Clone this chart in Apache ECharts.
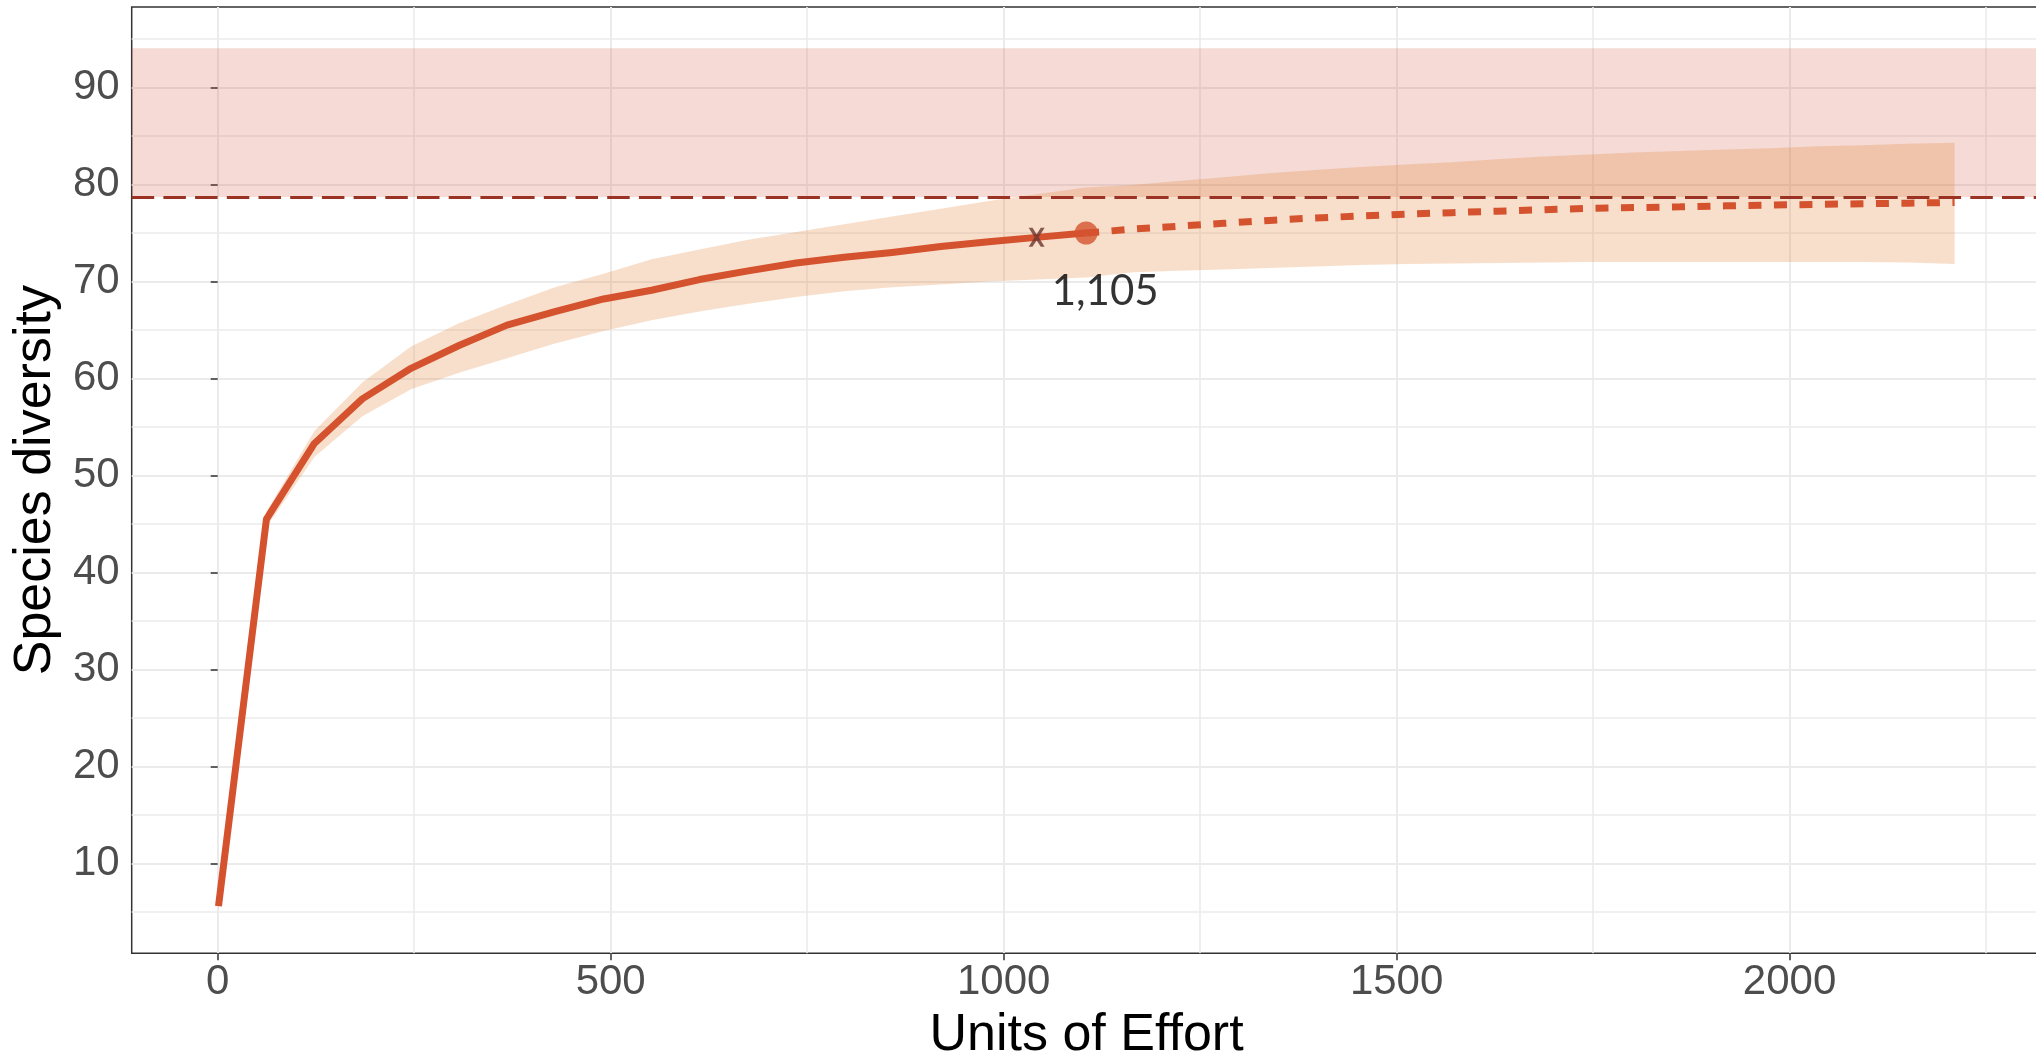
<!DOCTYPE html>
<html><head><meta charset="utf-8">
<script src="https://cdn.jsdelivr.net/npm/echarts@6/dist/echarts.min.js"></script>
<style>html,body{margin:0;padding:0;background:#fff}#c{width:2036px;height:1058px}</style>
</head><body><div id="c"></div>
<script>
// ---- data ----
const rareX  = [1, 62, 123, 184, 246, 307, 368, 429, 491, 552, 613, 675, 736, 797, 858, 920, 981, 1042, 1104, 1105];
const rareY  = [5.6, 45.5, 53.3, 57.9, 61.05, 63.4, 65.5, 66.9, 68.2, 69.1, 70.2, 71.1, 71.9, 72.5, 73.0, 73.6, 74.1, 74.55, 75.0, 75.0];
const rareLo = [5.2, 44.7, 51.9, 56.1, 58.9, 60.6, 62.1, 63.6, 64.9, 66.0, 66.9, 67.7, 68.4, 69.0, 69.4, 69.7, 70.0, 70.2, 70.4, 70.4];
const rareHi = [6.0, 46.3, 54.6, 59.6, 63.3, 65.7, 67.6, 69.4, 70.8, 72.3, 73.3, 74.3, 75.1, 75.9, 76.7, 77.5, 78.3, 79.0, 79.7, 79.7];

const extX  = [1105, 1106, 1164, 1222, 1280, 1338, 1396, 1454, 1512, 1570, 1628, 1687, 1745, 1803, 1861, 1919, 1977, 2035, 2093, 2151, 2210];
const extY  = [75.0, 75.0, 75.4, 75.7, 76.0, 76.3, 76.55, 76.75, 76.95, 77.1, 77.25, 77.4, 77.55, 77.62, 77.7, 77.8, 77.88, 77.95, 78.02, 78.08, 78.15];
const extLo = [70.4, 70.4, 70.95, 71.1, 71.25, 71.4, 71.55, 71.7, 71.8, 71.85, 71.9, 71.95, 72.0, 72.0, 72.0, 72.0, 72.0, 72.0, 72.0, 71.95, 71.8];
const extHi = [79.7, 79.7, 79.95, 80.35, 80.75, 81.15, 81.5, 81.8, 82.05, 82.3, 82.6, 82.9, 83.1, 83.3, 83.45, 83.6, 83.75, 83.95, 84.05, 84.2, 84.3];

const observed = [1105, 75.0];
const crossPoint = [1042, 74.55];
const asymptote = 78.7;
const asymptoteUpper = 94.05;

const xTicks = [0, 500, 1000, 1500, 2000];
const xMinor = [250, 750, 1250, 1750, 2250];
const yTicks = [10, 20, 30, 40, 50, 60, 70, 80, 90];
const yMinor = [5, 15, 25, 35, 45, 55, 65, 75, 85, 95];
const xRange = [-109.45, 2320.45];
const yRange = [0.74, 98.29];

// ---- build ----
const bandX  = rareX.concat(extX.slice(1));
const bandLo = rareLo.concat(extLo.slice(1));
const bandHi = rareHi.concat(extHi.slice(1));
const bandData = bandX.map((x, i) => [x, bandLo[i], bandHi[i]]);

const LINE = '#D4522E';
const FONT = '"Liberation Sans", Arial, sans-serif';
const GRID = '#EBEBEB';
const plainNum = v => String(v);

const chart = echarts.init(document.getElementById('c'), null, {renderer: 'canvas'});

const majorAxisX = {
  type: 'value', gridIndex: 0, min: xRange[0], max: xRange[1], position: 'bottom',
  axisLine: {show: false},
  axisTick: {show: true, customValues: xTicks, length: 7, lineStyle: {color: '#333333', width: 1.5}},
  axisLabel: {show: true, customValues: xTicks, formatter: plainNum, margin: 8, fontSize: 42, color: '#4D4D4D', fontFamily: FONT},
  splitLine: {show: true, lineStyle: {color: GRID, width: 2}},
  name: 'Units of Effort', nameLocation: 'middle', nameGap: 56,
  nameTextStyle: {fontSize: 52, color: '#000', fontFamily: FONT}
};
const minorAxisX = {
  type: 'value', gridIndex: 0, min: xRange[0], max: xRange[1], position: 'bottom',
  axisLine: {show: false}, axisLabel: {show: false},
  axisTick: {show: false, customValues: xMinor},
  splitLine: {show: true, lineStyle: {color: GRID, width: 1.6}}
};
const majorAxisY = {
  type: 'value', gridIndex: 0, min: yRange[0], max: yRange[1], position: 'left',
  axisLine: {show: false},
  axisTick: {show: true, customValues: yTicks, length: 7, lineStyle: {color: '#333333', width: 1.5}},
  axisLabel: {show: true, customValues: yTicks, formatter: plainNum, margin: 12, fontSize: 42, color: '#4D4D4D', fontFamily: FONT},
  splitLine: {show: true, lineStyle: {color: GRID, width: 2}},
  name: 'Species diversity', nameLocation: 'middle', nameRotate: 90, nameGap: 66,
  nameTextStyle: {fontSize: 52, color: '#000', fontFamily: FONT}
};
const minorAxisY = {
  type: 'value', gridIndex: 0, min: yRange[0], max: yRange[1], position: 'left',
  axisLine: {show: false}, axisLabel: {show: false},
  axisTick: {show: false, customValues: yMinor},
  splitLine: {show: true, lineStyle: {color: GRID, width: 1.6}}
};

chart.setOption({
  animation: false,
  backgroundColor: '#fff',
  grid: {left: 131.7, top: 7.1, width: 1909.7, height: 946.2, show: true,
         borderColor: '#333333', borderWidth: 1.5, backgroundColor: 'transparent',
         containLabel: false, outerBoundsMode: 'none'},
  xAxis: [majorAxisX, minorAxisX],
  yAxis: [majorAxisY, minorAxisY],
  series: [
    {
      name: 'asymptote', type: 'line', data: [], silent: true, z: 2,
      markArea: {silent: true, itemStyle: {color: 'rgba(205,70,45,0.2)'},
        data: [[{yAxis: asymptote}, {yAxis: asymptoteUpper}]]},
      markLine: {silent: true, symbol: 'none', label: {show: false}, z: 6,
        lineStyle: {color: '#9A3324', width: 3, type: [22.5, 9.2]},
        data: [{yAxis: asymptote}]}
    },
    {
      name: 'ci', type: 'custom', silent: true, z: 2,
      encode: {x: 0, y: [1, 2]},
      data: bandData,
      renderItem: function (params, api) {
        if (params.dataIndex !== 0) return null;
        const upper = bandData.map(d => api.coord([d[0], d[2]]));
        const lower = bandData.map(d => api.coord([d[0], d[1]])).reverse();
        return {
          type: 'polygon',
          shape: {points: upper.concat(lower)},
          style: {fill: 'rgba(227,127,47,0.25)', stroke: 'none'}
        };
      }
    },
    {
      name: 'rarefaction', type: 'line', symbol: 'none', z: 3,
      lineStyle: {color: LINE, width: 7, cap: 'butt', join: 'round'},
      data: rareX.map((x, i) => [x, rareY[i]])
    },
    {
      name: 'extrapolation', type: 'line', symbol: 'none', z: 3,
      lineStyle: {color: LINE, width: 7, type: [13, 12.5], cap: 'butt'},
      data: extX.map((x, i) => [x, extY[i]])
    },
    {
      name: 'cross', type: 'scatter', z: 4,
      symbol: 'path://M0,0 L2.4,0 L5,4.1 L7.6,0 L10,0 L6.3,6 L10,12 L7.6,12 L5,7.9 L2.4,12 L0,12 L3.7,6 Z',
      symbolSize: [16, 19], itemStyle: {color: '#6E3530'},
      data: [crossPoint]
    },
    {
      name: 'observed', type: 'scatter', z: 5, symbol: 'circle', symbolSize: 23,
      itemStyle: {color: LINE},
      label: {show: true, position: 'bottom', distance: 26, offset: [19, 0],
        formatter: p => p.value[0].toLocaleString('en-US'),
        fontFamily: 'Lato, "Open Sans", sans-serif', fontSize: 42, color: '#000', lineHeight: 42},
      data: [observed]
    }
  ]
});
</script></body></html>
